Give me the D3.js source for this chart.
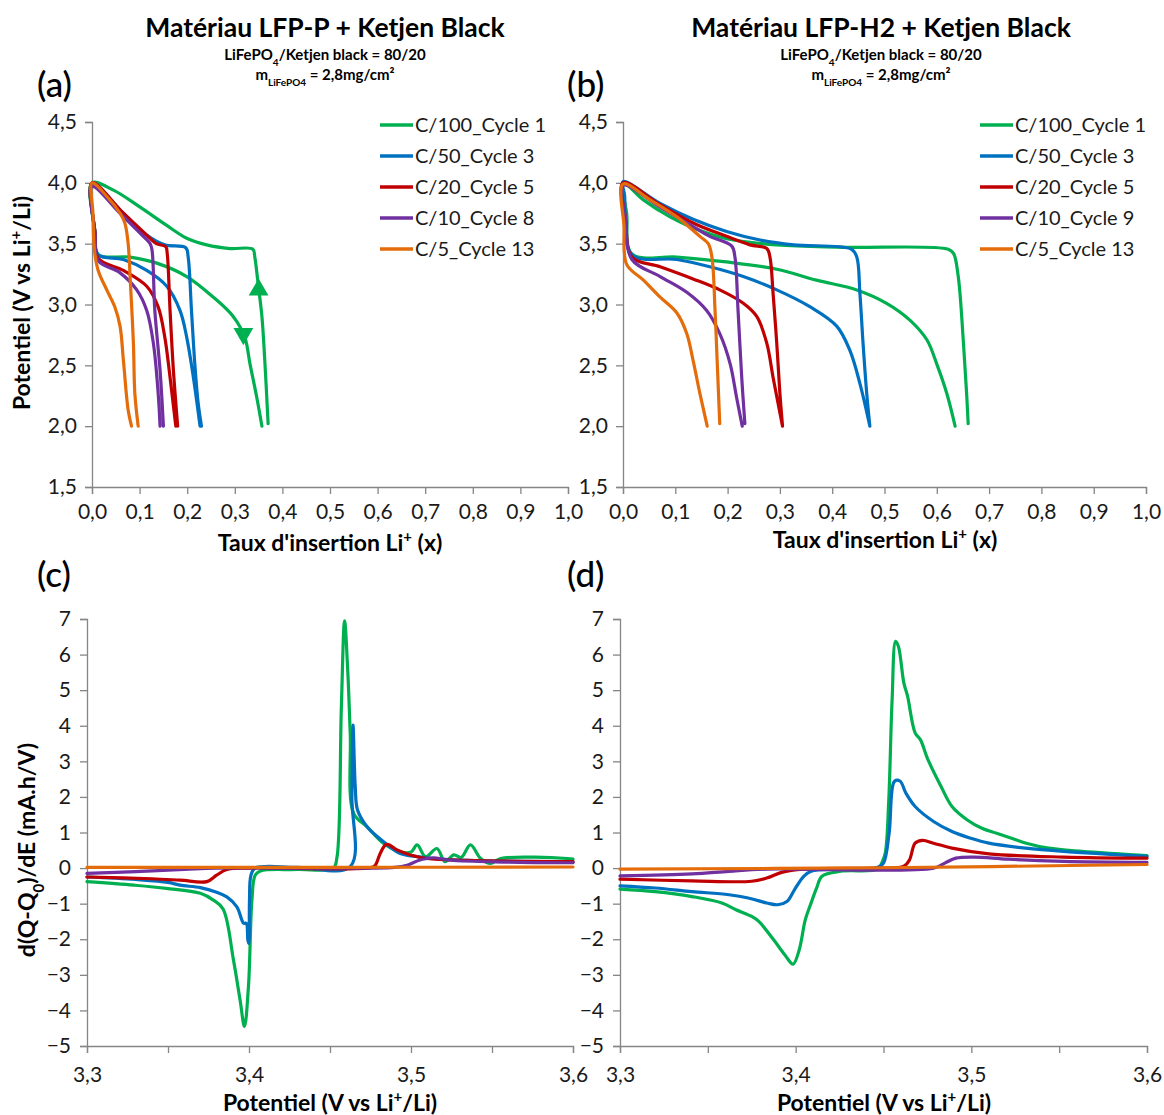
<!DOCTYPE html>
<html><head><meta charset="utf-8">
<script src="https://cdn.jsdelivr.net/npm/d3@7"></script>
<style>
body{margin:0;background:#fff;}
svg{display:block;font-family:Lato,"Open Sans",sans-serif;}
</style></head>
<body><svg id="c" width="1164" height="1115"></svg>
<script>
// ---------- DATA ----------
const colors = ["#00B050", "#0070C0", "#C00000", "#7030A0", "#E46C0A"];
const legendA = ["C/100_Cycle 1", "C/50_Cycle 3", "C/20_Cycle 5", "C/10_Cycle 8", "C/5_Cycle 13"];
const legendB = ["C/100_Cycle 1", "C/50_Cycle 3", "C/20_Cycle 5", "C/10_Cycle 9", "C/5_Cycle 13"];

const ticksInsertion = [0, 0.1, 0.2, 0.3, 0.4, 0.5, 0.6, 0.7, 0.8, 0.9, 1.0];
const ticksPotential = [1.5, 2.0, 2.5, 3.0, 3.5, 4.0, 4.5];
const ticksDQ = [-5, -4, -3, -2, -1, 0, 1, 2, 3, 4, 5, 6, 7];
const ticksE = [3.3, 3.35, 3.4, 3.45, 3.5, 3.55, 3.6];

// Panel (a): [x, V]
const aSeries = [
  [[0.370,2.02],[0.363,2.54],[0.357,2.90],[0.349,3.17],[0.342,3.39],[0.338,3.455],[0.290,3.46],[0.241,3.49],[0.199,3.545],[0.157,3.65],[0.101,3.80],[0.045,3.94],[0,4.0],[0.006,3.60],[0.013,3.41],[0.080,3.39],[0.136,3.34],[0.199,3.23],[0.255,3.06],[0.297,2.90],[0.321,2.73],[0.332,2.51],[0.346,2.24],[0.357,2.0]],
  [[0.230,2.0],[0.223,2.19],[0.216,2.51],[0.209,2.95],[0.202,3.39],[0.197,3.467],[0.153,3.49],[0.115,3.57],[0.066,3.75],[0,4.0],[0.006,3.60],[0.013,3.41],[0.066,3.37],[0.115,3.28],[0.157,3.15],[0.185,2.95],[0.199,2.73],[0.213,2.40],[0.227,2.0]],
  [[0.180,2.0],[0.171,2.46],[0.164,2.95],[0.158,3.42],[0.155,3.475],[0.135,3.50],[0.115,3.57],[0.066,3.75],[0,4.0],[0.006,3.60],[0.013,3.38],[0.066,3.28],[0.115,3.15],[0.139,2.98],[0.153,2.73],[0.164,2.40],[0.176,2.0]],
  [[0.150,2.0],[0.143,2.46],[0.132,2.95],[0.126,3.45],[0.122,3.50],[0.100,3.59],[0.059,3.75],[0,3.97],[0.006,3.60],[0.013,3.36],[0.059,3.26],[0.094,3.12],[0.115,2.95],[0.129,2.68],[0.139,2.27],[0.143,2.0]],
  [[0.097,2.0],[0.090,2.27],[0.087,2.68],[0.080,3.23],[0.076,3.50],[0.069,3.67],[0.059,3.75],[0.031,3.89],[0,4.0],[0.002,3.75],[0.005,3.45],[0.013,3.28],[0.031,3.12],[0.048,2.98],[0.059,2.82],[0.066,2.54],[0.076,2.13],[0.083,2.0]]
];
// Direction arrows on the C/100 curve of panel (a): [x, V, angle]
const arrowsA = [[0.350, 3.12, 0], [0.318, 2.76, 180]];

// Panel (b): [x, V]
const bSeries = [
  [[0.660,2.02],[0.657,2.27],[0.651,2.68],[0.641,3.23],[0.632,3.42],[0.622,3.454],[0.421,3.47],[0.294,3.49],[0.198,3.54],[0.134,3.63],[0.090,3.72],[0.039,3.86],[0,4.0],[0.007,3.75],[0.017,3.415],[0.103,3.39],[0.198,3.35],[0.294,3.29],[0.370,3.20],[0.447,3.12],[0.504,3.01],[0.549,2.87],[0.581,2.71],[0.600,2.51],[0.619,2.27],[0.635,2.0]],
  [[0.472,2.0],[0.466,2.27],[0.459,2.68],[0.453,3.09],[0.447,3.39],[0.437,3.454],[0.326,3.49],[0.262,3.53],[0.198,3.60],[0.134,3.70],[0.071,3.83],[0,4.01],[0.003,3.90],[0.017,3.41],[0.103,3.37],[0.166,3.31],[0.230,3.23],[0.294,3.12],[0.358,2.98],[0.409,2.82],[0.434,2.62],[0.453,2.35],[0.472,2.0]],
  [[0.305,2.0],[0.300,2.27],[0.294,2.68],[0.287,3.09],[0.281,3.39],[0.275,3.46],[0.243,3.49],[0.198,3.56],[0.134,3.67],[0.071,3.82],[0,4.0],[0.005,3.70],[0.017,3.39],[0.071,3.31],[0.134,3.21],[0.185,3.12],[0.230,3.01],[0.256,2.90],[0.275,2.68],[0.287,2.40],[0.305,2.0]],
  [[0.233,2.02],[0.227,2.40],[0.220,2.95],[0.214,3.39],[0.208,3.48],[0.166,3.56],[0.134,3.64],[0.071,3.80],[0,3.98],[0.005,3.70],[0.017,3.37],[0.071,3.23],[0.122,3.10],[0.160,2.95],[0.185,2.76],[0.205,2.51],[0.217,2.24],[0.228,2.0]],
  [[0.185,2.02],[0.180,2.54],[0.176,2.95],[0.170,3.39],[0.163,3.50],[0.147,3.56],[0.103,3.72],[0.052,3.86],[0,3.99],[0.002,3.64],[0.007,3.33],[0.039,3.20],[0.071,3.06],[0.103,2.93],[0.122,2.76],[0.134,2.54],[0.147,2.27],[0.161,2.0]]
];

// Panel (c): [E, dQ/dE]
const cSeries = [
  [[3.300,-0.38],[3.329,-0.48],[3.349,-0.57],[3.370,-0.71],[3.378,-0.90],[3.384,-1.15],[3.3904,-2.58],[3.3945,-3.71],[3.3972,-4.45],[3.3997,-3.3],[3.4018,-0.90],[3.4038,-0.2],[3.407,-0.08],[3.430,-0.04],[3.452,0.0],[3.4543,0.3],[3.457,4.5],[3.459,6.95],[3.461,5.5],[3.4625,3.78],[3.4646,1.54],[3.4729,1.16],[3.4831,0.69],[3.4934,0.46],[3.500,0.45],[3.5038,0.65],[3.509,0.32],[3.516,0.55],[3.521,0.18],[3.5264,0.37],[3.531,0.30],[3.5367,0.65],[3.543,0.27],[3.549,0.13],[3.5553,0.27],[3.5965,0.27],[3.600,0.25]],
  [[3.300,-0.25],[3.330,-0.32],[3.350,-0.40],[3.3575,-0.48],[3.370,-0.55],[3.380,-0.68],[3.3863,-0.81],[3.3925,-1.09],[3.3956,-1.46],[3.3966,-1.55],[3.3983,-1.55],[3.3993,-2.02],[3.3999,-2.12],[3.4003,-0.90],[3.4012,-0.2],[3.4038,0.0],[3.430,0.02],[3.4625,0.04],[3.4635,2.0],[3.4642,4.02],[3.4656,2.28],[3.467,1.63],[3.4729,1.16],[3.4831,0.74],[3.4934,0.41],[3.504,0.32],[3.514,0.27],[3.5347,0.22],[3.600,0.18]],
  [[3.300,-0.25],[3.340,-0.30],[3.3575,-0.34],[3.374,-0.38],[3.380,-0.2],[3.3863,-0.04],[3.400,0.0],[3.476,0.02],[3.478,0.08],[3.481,0.41],[3.4842,0.65],[3.486,0.66],[3.4914,0.51],[3.4996,0.37],[3.510,0.27],[3.5347,0.22],[3.600,0.18]],
  [[3.300,-0.15],[3.330,-0.10],[3.360,-0.04],[3.380,0.0],[3.490,0.02],[3.4976,0.08],[3.505,0.22],[3.510,0.27],[3.514,0.29],[3.5243,0.22],[3.560,0.17],[3.600,0.15]],
  [[3.300,0.02],[3.450,0.02],[3.600,0.03]]
];

// Panel (d): [E, dQ/dE]
const dSeries = [
  [[3.300,-0.59],[3.320,-0.66],[3.341,-0.80],[3.358,-0.98],[3.366,-1.17],[3.375,-1.36],[3.379,-1.5],[3.388,-2.05],[3.394,-2.45],[3.3985,-2.70],[3.402,-2.3],[3.4055,-1.45],[3.409,-0.95],[3.412,-0.55],[3.415,-0.23],[3.4257,-0.09],[3.4468,-0.03],[3.449,0.14],[3.451,0.42],[3.453,1.92],[3.4549,4.73],[3.4569,6.37],[3.4585,6.23],[3.4616,5.20],[3.4637,4.83],[3.468,3.80],[3.471,3.61],[3.4753,3.05],[3.4827,2.30],[3.489,1.73],[3.4975,1.36],[3.506,1.12],[3.5144,0.98],[3.5229,0.84],[3.5313,0.70],[3.544,0.56],[3.563,0.47],[3.584,0.40],[3.600,0.35]],
  [[3.300,-0.50],[3.320,-0.56],[3.341,-0.66],[3.362,-0.75],[3.373,-0.84],[3.3835,-0.98],[3.3898,-1.03],[3.395,-0.94],[3.3993,-0.61],[3.4046,-0.23],[3.4088,-0.09],[3.4257,-0.03],[3.4468,0.02],[3.450,0.14],[3.4532,0.98],[3.4563,2.44],[3.4595,2.44],[3.4627,2.11],[3.468,1.73],[3.4785,1.31],[3.489,1.03],[3.4996,0.84],[3.510,0.70],[3.531,0.56],[3.5525,0.47],[3.600,0.33]],
  [[3.300,-0.31],[3.341,-0.36],[3.375,-0.37],[3.3835,-0.28],[3.392,-0.12],[3.4046,-0.03],[3.4468,0.0],[3.4616,0.05],[3.4648,0.23],[3.468,0.70],[3.4722,0.78],[3.4785,0.70],[3.489,0.56],[3.510,0.40],[3.5525,0.31],[3.600,0.28]],
  [[3.300,-0.22],[3.341,-0.16],[3.362,-0.09],[3.3835,-0.03],[3.4785,0.0],[3.4849,0.14],[3.4912,0.28],[3.5018,0.31],[3.5208,0.25],[3.5525,0.19],[3.600,0.16]],
  [[3.300,-0.03],[3.450,0.01],[3.600,0.10]]
];

// ---------- DRAW ----------
const svg = d3.select("#c");
const AX = "#868686", TXT = "#1a1a1a";
const fmt1 = d => d3.format(".1f")(d).replace(".", ",");
const fmtE = d => (Math.abs(d * 10 - Math.round(d * 10)) < 1e-6 ? fmt1(d) : "");
const fmtI = d => d3.format("d")(d);

function panel(cfg) {
  const g = svg.append("g");
  const x = d3.scaleLinear().domain(cfg.xd).range([cfg.x0, cfg.x1]);
  const y = d3.scaleLinear().domain(cfg.yd).range([cfg.yb, cfg.yt]);
  const xa = g.append("g").attr("transform", `translate(0,${cfg.yb})`)
    .call(d3.axisBottom(x).tickValues(cfg.xt).tickFormat(cfg.xf).tickSize(7).tickPadding(cfg.xpad));
  const ya = g.append("g").attr("transform", `translate(${cfg.x0},0)`)
    .call(d3.axisLeft(y).tickValues(cfg.yt2).tickFormat(cfg.yf).tickSize(7).tickPadding(cfg.ypad));
  [xa, ya].forEach(a => {
    a.select(".domain").attr("stroke", AX).attr("stroke-width", 1.3);
    a.selectAll(".tick line").attr("stroke", AX).attr("stroke-width", 1.3);
    a.selectAll(".tick text").attr("fill", TXT).style("font-size", "21px").style("font-family", "Lato");
  });
  const line = d3.line().x(d => x(d[0])).y(d => y(d[1])).curve(d3.curveCatmullRom.alpha(0.5));
  g.append("g").selectAll("path").data(cfg.series).join("path")
    .attr("d", line).attr("fill", "none")
    .attr("stroke", (d, i) => colors[i]).attr("stroke-width", 3.2)
    .attr("stroke-linejoin", "round").attr("stroke-linecap", "round");
  return {g, x, y};
}

const pa = panel({xd:[0,1], yd:[1.5,4.5], x0:92, x1:568, yt:122, yb:487, xt:ticksInsertion, yt2:ticksPotential, xf:fmt1, yf:fmt1, xpad:10, ypad:8, series:aSeries});
const pb = panel({xd:[0,1], yd:[1.5,4.5], x0:623, x1:1146, yt:122, yb:487, xt:ticksInsertion, yt2:ticksPotential, xf:fmt1, yf:fmt1, xpad:10, ypad:8, series:bSeries});
const pc = panel({xd:[3.3,3.6], yd:[-5,7], x0:87, x1:573, yt:619, yb:1046, xt:ticksE, yt2:ticksDQ, xf:fmtE, yf:fmtI, xpad:14, ypad:9, series:cSeries});
const pd = panel({xd:[3.3,3.6], yd:[-5,7], x0:620, x1:1147, yt:619, yb:1046, xt:ticksE, yt2:ticksDQ, xf:fmtE, yf:fmtI, xpad:14, ypad:9, series:dSeries});

// arrows
pa.g.append("g").selectAll("path").data(arrowsA).join("path")
  .attr("d", d3.symbol(d3.symbolTriangle, 170))
  .attr("transform", d => `translate(${pa.x(d[0])},${pa.y(d[1])}) rotate(${d[2]})`)
  .attr("fill", colors[0]);

// legends
function legend(labels, lx, ly) {
  const g = svg.append("g");
  labels.forEach((t, i) => {
    const yy = ly + i * 31;
    g.append("line").attr("x1", lx).attr("x2", lx + 33).attr("y1", yy).attr("y2", yy)
      .attr("stroke", colors[i]).attr("stroke-width", 3.5);
    g.append("text").attr("x", lx + 35).attr("y", yy).attr("dy", "0.35em")
      .attr("fill", TXT).style("font-size", "20px").text(t);
  });
}
legend(legendA, 380, 125);
legend(legendB, 980, 125);

// titles
function titleBlock(cx, title) {
  svg.append("text").attr("x", cx).attr("y", 37).attr("text-anchor", "middle")
    .attr("font-weight", 700).style("font-size", "26.5px").attr("fill", "#000")
    .text(title);
  const s1 = svg.append("text").attr("x", cx).attr("y", 60).attr("text-anchor", "middle")
    .attr("font-weight", 700).style("font-size", "15px").attr("fill", "#000");
  s1.append("tspan").text("LiFePO");
  s1.append("tspan").attr("baseline-shift", "sub").style("font-size", "10px").text("4");
  s1.append("tspan").text("/Ketjen black = 80/20");
  const s2 = svg.append("text").attr("x", cx).attr("y", 80).attr("text-anchor", "middle")
    .attr("font-weight", 700).style("font-size", "15px").attr("fill", "#000");
  s2.append("tspan").text("m");
  s2.append("tspan").attr("baseline-shift", "sub").style("font-size", "10px").text("LiFePO4");
  s2.append("tspan").text(" = 2,8mg/cm²");
}
titleBlock(325, "Matériau LFP-P + Ketjen Black");
titleBlock(881, "Matériau LFP-H2 + Ketjen Black");

// panel letters
[["(a)", 37, 97], ["(b)", 567, 97], ["(c)", 37, 587], ["(d)", 567, 587]].forEach(d => {
  svg.append("text").attr("x", d[1]).attr("y", d[2]).style("font-size", "35px")
    .attr("font-weight", 500).attr("fill", "#000").text(d[0]);
});

// axis titles
function liTitle(x, y, rot, before, after) {
  const t = svg.append("text").attr("text-anchor", "middle").attr("font-weight", 700)
    .style("font-size", "23px").attr("fill", "#000")
    .attr("transform", `translate(${x},${y}) rotate(${rot})`);
  t.append("tspan").text(before);
  t.append("tspan").attr("baseline-shift", "super").style("font-size", "15px").text("+");
  t.append("tspan").text(after);
}
liTitle(330, 551, 0, "Taux d'insertion Li", " (x)");
liTitle(885, 548, 0, "Taux d'insertion Li", " (x)");
liTitle(30, 303, -90, "Potentiel (V vs Li", "/Li)");
liTitle(330, 1111, 0, "Potentiel (V vs Li", "/Li)");
liTitle(884, 1111, 0, "Potentiel (V vs Li", "/Li)");
{
  const t = svg.append("text").attr("text-anchor", "middle").attr("font-weight", 700)
    .style("font-size", "23px").attr("fill", "#000")
    .attr("transform", `translate(35,850) rotate(-90)`);
  t.append("tspan").text("d(Q-Q");
  t.append("tspan").attr("baseline-shift", "sub").style("font-size", "15px").text("0");
  t.append("tspan").text(")/dE (mA.h/V)");
}
</script></body></html>
